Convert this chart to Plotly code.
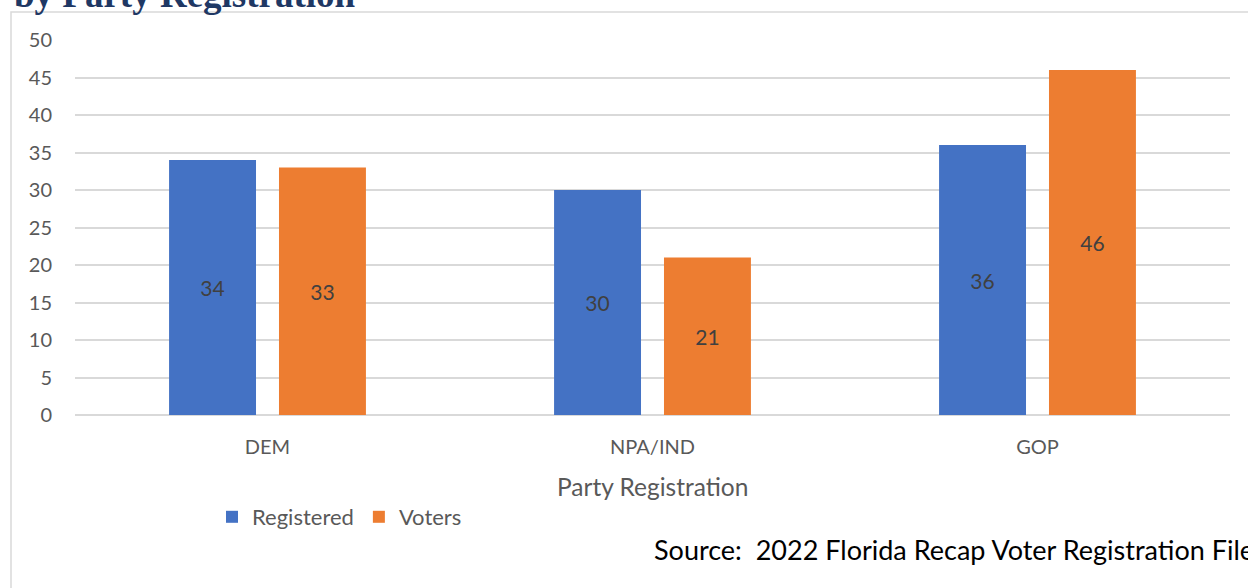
import plotly.graph_objects as go

categories = ["DEM", "NPA/IND", "GOP"]
registered = [34, 30, 36]
voters = [33, 21, 46]
y_ticks = [0, 5, 10, 15, 20, 25, 30, 35, 40, 45, 50]

FONT = "Lato"
L, R, T, B = 75, 18, 40, 173
W, H = 1248, 588
PW = W - L - R
PH = H - T - B

def px(x):
    return (x - L) / PW

def py(y):
    return (H - B - y) / PH

fig = go.Figure()
fig.add_trace(go.Bar(
    name="Registered", x=categories, y=registered,
    marker=dict(color="#4472C4", line=dict(width=0)),
    text=registered, textposition="inside", insidetextanchor="middle",
    textfont=dict(family=FONT, size=21, color="#404040"),
))
fig.add_trace(go.Bar(
    name="Voters", x=categories, y=voters,
    marker=dict(color="#ED7D31", line=dict(width=0)),
    text=voters, textposition="inside", insidetextanchor="middle",
    textfont=dict(family=FONT, size=21, color="#404040"),
))

fig.update_layout(
    width=W, height=H,
    margin=dict(l=L, r=R, t=T, b=B),
    paper_bgcolor="white", plot_bgcolor="white",
    barmode="group", bargap=0.429, bargroupgap=0.209,
    font=dict(family=FONT, color="#595959"),
    uniformtext=dict(mode="show", minsize=8),
    showlegend=True,
    legend=dict(orientation="h", x=px(212), y=py(517), xanchor="left", yanchor="middle",
                font=dict(family=FONT, size=22, color="#595959"), itemwidth=30,
                bgcolor="rgba(0,0,0,0)"),
    xaxis=dict(showgrid=False, showline=False, zeroline=False, ticks="",
               tickfont=dict(family=FONT, size=20, color="#595959"),
               ticklabelstandoff=18),
    yaxis=dict(range=[0, 50], tickvals=y_ticks, showgrid=True, gridcolor="#D9D9D9",
               gridwidth=1.5, zeroline=True, zerolinecolor="#D9D9D9", zerolinewidth=1.5,
               showline=False, ticks="",
               tickfont=dict(family=FONT, size=20, color="#595959"),
               ticklabelstandoff=22),
    shapes=[dict(type="rect", xref="paper", yref="paper",
                 x0=px(11), x1=px(1260), y0=py(12), y1=py(600),
                 line=dict(color="#D9D9D9", width=1.5), layer="below")],
    annotations=[
        dict(text="<b>by Party Registration</b>", xref="paper", yref="paper",
             x=px(12), y=py(17), xanchor="left", yanchor="bottom", showarrow=False,
             font=dict(family="Liberation Serif", size=37, color="#1F3864")),
        dict(text="Party Registration", xref="paper", yref="paper",
             x=px(652), y=py(486), xanchor="center", yanchor="middle", showarrow=False,
             font=dict(family=FONT, size=24.5, color="#595959")),
        dict(text="Source:\u00a0\u00a02022 Florida Recap Voter Registration File", xref="paper", yref="paper",
             x=px(652), y=py(549), xanchor="left", yanchor="middle", showarrow=False,
             font=dict(family=FONT, size=27, color="#000000")),
    ],
)

fig.write_html("out.html", config={"displayModeBar": False},
               post_script="document.body.style.margin='0';document.body.style.overflow='hidden';")
